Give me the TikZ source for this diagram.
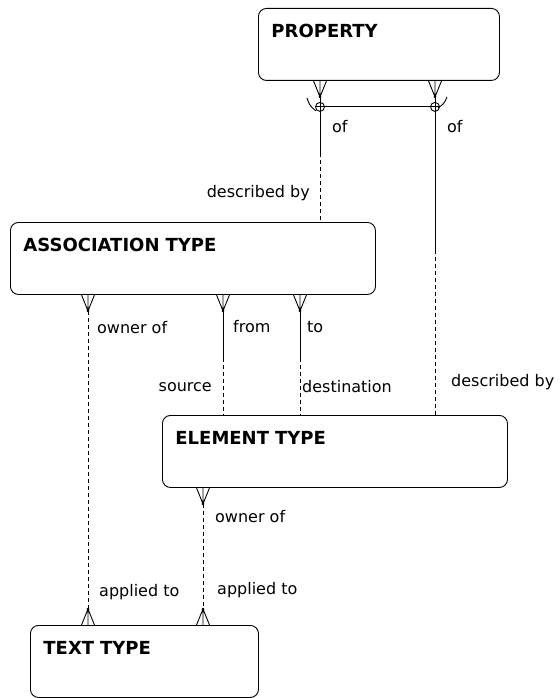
\documentclass[tikz,border=0pt]{standalone}
\usepackage{fontspec}
\setmainfont{DejaVu Sans}
\usetikzlibrary{calc}

\tikzset{
  entity/.style={draw,line width=0.9pt,rounded corners=8pt,anchor=north west,align=left,
    inner xsep=13pt,inner ysep=0pt,text height=29pt,text depth=43pt,
    font=\bfseries\fontsize{18}{20}\selectfont},
  rel/.style={line width=0.9pt},
  opt/.style={rel,dash pattern=on 4pt off 3pt},
  lbl/.style={inner sep=0pt,font=\fontsize{16}{18}\selectfont},
}

% crow's foot: #1 = point on the box edge, #2 = length (negative points up)
\newcommand{\crowsfoot}[2]{%
  \draw[rel] ($(#1)+(-6.5,0)$) -- ($(#1)+(0,#2)$) -- ($(#1)+(6.5,0)$)
    (#1) -- ($(#1)+(0,#2)$);
  \fill ($(#1)+(0,#2)$) circle (1.5pt);}

\begin{document}
\begin{tikzpicture}[x=1pt,y=-1pt]
  \useasboundingbox (0,0) rectangle (559,698);

  \node (prop) [entity,text width=215pt] at (258,8) {PROPERTY};
  \node (assoc) [entity,text width=339pt] at (10,222) {ASSOCIATION TYPE};
  \node (elem) [entity,text width=319pt] at (162,415) {ELEMENT TYPE};
  \node (text) [entity,text width=202pt] at (30,625) {TEXT TYPE};

  % property -- association type / element type (arc)
  \coordinate (pa) at (320,0 |- prop.south);
  \coordinate (pb) at (435,0 |- prop.south);
  \coordinate (aa) at (320,0 |- assoc.north);
  \coordinate (eb) at (435,0 |- elem.north);
  \crowsfoot{pa}{16}
  \crowsfoot{pb}{16}
  \coordinate (ka) at ($(pa)+(0,16)$);
  \coordinate (kb) at ($(pb)+(0,16)$);
  \coordinate (xa) at ($(pa)+(0,26)$);
  \coordinate (xb) at ($(pb)+(0,26)$);
  \draw[rel] (xa) circle (4.5pt) (xb) circle (4.5pt);
  \draw[rel] ($(xa)+(-4.5,0)$) -- ($(xb)+(4.5,0)$);
  \draw[rel] ($(xa)+(-13,-9)$) to[bend right=20] ($(xa)+(-4,4)$);
  \draw[rel] ($(xb)+(12,-10)$) to[bend left=20] ($(xb)+(3,1)$);
  \draw[rel] (ka) -- ($(ka)!0.45!(aa)$);
  \draw[opt] ($(ka)!0.45!(aa)$) -- (aa);
  \draw[rel] (kb) -- ($(kb)!0.48!(eb)$);
  \draw[opt] ($(kb)!0.48!(eb)$) -- (eb);

  % association type -- element type
  \coordinate (af) at (223,0 |- assoc.south);
  \coordinate (at) at (300,0 |- assoc.south);
  \coordinate (es) at (223,0 |- elem.north);
  \coordinate (ed) at (300,0 |- elem.north);
  \crowsfoot{af}{16}
  \crowsfoot{at}{16}
  \coordinate (kf) at ($(af)+(0,16)$);
  \coordinate (kt) at ($(at)+(0,16)$);
  \draw[rel] (kf) -- ($(kf)!0.45!(es)$);
  \draw[opt] ($(kf)!0.45!(es)$) -- (es);
  \draw[rel] (kt) -- ($(kt)!0.45!(ed)$);
  \draw[opt] ($(kt)!0.45!(ed)$) -- (ed);

  % owners of text type
  \coordinate (ao) at (88,0 |- assoc.south);
  \coordinate (eo) at (203,0 |- elem.south);
  \coordinate (ta) at (88,0 |- text.north);
  \coordinate (te) at (203,0 |- text.north);
  \crowsfoot{ao}{16}
  \crowsfoot{eo}{16}
  \crowsfoot{ta}{-16}
  \crowsfoot{te}{-16}
  \draw[opt] ($(ao)+(0,16)$) -- ($(ta)+(0,-16)$);
  \draw[opt] ($(eo)+(0,16)$) -- ($(te)+(0,-16)$);

  % labels
  \node (ofA) [lbl,anchor=west] at (332,127) {of};
  \node (ofE) [lbl,anchor=west] at (447,127) {of};
  \node (descA) [lbl,anchor=east] at (310,193) {described by};
  \node (descE) [lbl,anchor=west] at (451,382) {described by};
  \node (ownA) [lbl,anchor=west] at (97,328) {owner of};
  \node (fromA) [lbl,anchor=west] at (233,327) {from};
  \node (toA) [lbl,anchor=west] at (307,327) {to};
  \node (srcE) [lbl,anchor=east] at (212,387) {source};
  \node (dstE) [lbl,anchor=west] at (302,387) {destination};
  \node (ownE) [lbl,anchor=west] at (215,517) {owner of};
  \node (appA) [lbl,anchor=west] at (99,592) {applied to};
  \node (appE) [lbl,anchor=west] at (217,590) {applied to};
\end{tikzpicture}
\end{document}
